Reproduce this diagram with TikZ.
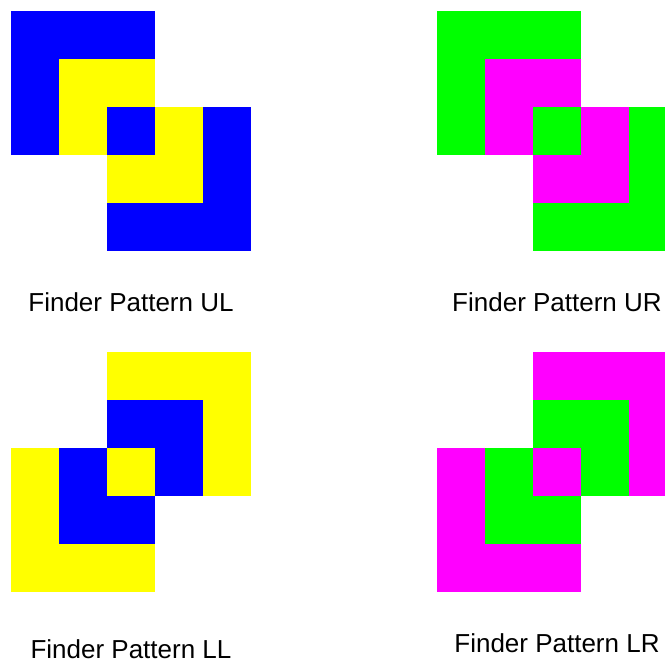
\documentclass[tikz,border=0pt]{standalone}
\usepackage{fontspec}
\setmainfont{Liberation Sans}
\definecolor{fpblue}{HTML}{0000FF}
\definecolor{fpyellow}{HTML}{FFFF00}
\definecolor{fpgreen}{HTML}{00FF00}
\definecolor{fpmagenta}{HTML}{FF00FF}

\begin{document}
\begin{tikzpicture}[x=1pt,y=-1pt,
  lbl/.style={anchor=base,inner sep=0pt,font=\fontsize{26}{30}\selectfont}]

  \useasboundingbox (0,0) rectangle (665,662);
  \clip (0,0) rectangle (665,662);

  % --- upper patterns: outer ring, inner ring, centre cell ---
  \foreach \sx/\co/\ci/\tag in {11/fpblue/fpyellow/UL,437/fpgreen/fpmagenta/UR}{
    \begin{scope}[shift={(\sx,11)},x=48pt,y=-48pt]
      \fill[\co] (0,0) rectangle (3,3);
      \fill[\ci] (1,1) rectangle (3,3);
      \fill[\co] (2,2) rectangle (5,5);
      \fill[\ci] (2,2) rectangle (4,4);
      \fill[\co] (2,2) rectangle (3,3);
      \node[lbl] (lbl\tag) at (2.5,6.25) {Finder Pattern \tag};
    \end{scope}
  }

  % --- lower patterns ---
  \foreach \sx/\co/\ci/\tag/\ly in {11/fpyellow/fpblue/LL/6.375,437/fpmagenta/fpgreen/LR/6.27}{
    \begin{scope}[shift={(\sx,352)},x=48pt,y=-48pt]
      \fill[\co] (2,0) rectangle (5,3);
      \fill[\ci] (2,1) rectangle (4,3);
      \fill[\co] (0,2) rectangle (3,5);
      \fill[\ci] (1,2) rectangle (3,4);
      \fill[\co] (2,2) rectangle (3,3);
      \node[lbl] (lbl\tag) at (2.5,\ly) {Finder Pattern \tag};
    \end{scope}
  }

\end{tikzpicture}
\end{document}
